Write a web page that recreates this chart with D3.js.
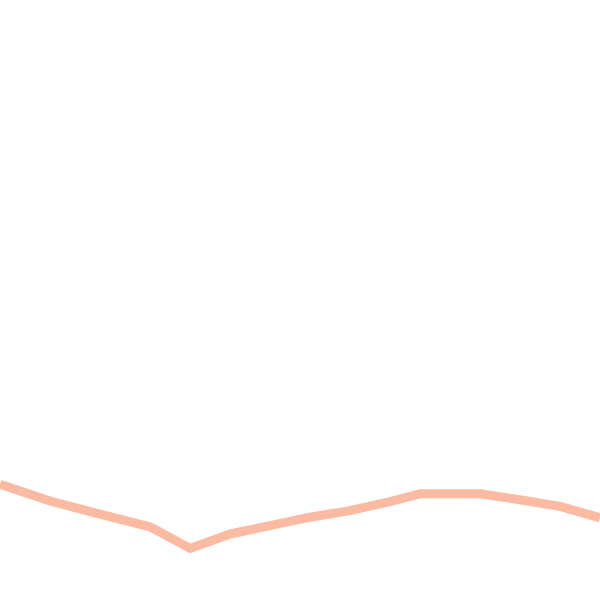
<!DOCTYPE html>
<html>
<head>
<meta charset="utf-8">
<script src="https://cdn.jsdelivr.net/npm/d3@7"></script>
<style>
  html, body { margin: 0; padding: 0; background: #fff; }
</style>
</head>
<body>
<div id="chart"></div>
<script>
// positions along the run and the value at each one
var xs = [0, 10, 20, 30, 38, 46, 54, 62, 70, 78, 84, 96, 104, 112, 120];
var vals = [19.3, 16.5, 14.3, 12.2, 8.6, 11.0, 12.4, 13.8, 14.9, 16.4, 17.7, 17.7, 16.7, 15.6, 13.7];

var width = 600, height = 600;

var data = xs.map(function(x, i) { return { x: x, v: vals[i] }; });

var x = d3.scaleLinear()
  .domain([0, 120])
  .range([0, width]);

var y = d3.scaleLinear()
  .domain([0, 100])
  .range([height, 0]);

var svg = d3.select("#chart")
  .append("svg")
  .attr("width", width)
  .attr("height", height);

var line = d3.line()
  .x(d => x(d.x))
  .y(d => y(d.v));

svg.append("path")
  .datum(data)
  .attr("fill", "none")
  .attr("stroke", "#fbbaa2")
  .attr("stroke-width", 9)
  .attr("stroke-linejoin", "round")
  .attr("d", line);
</script>
</body>
</html>
